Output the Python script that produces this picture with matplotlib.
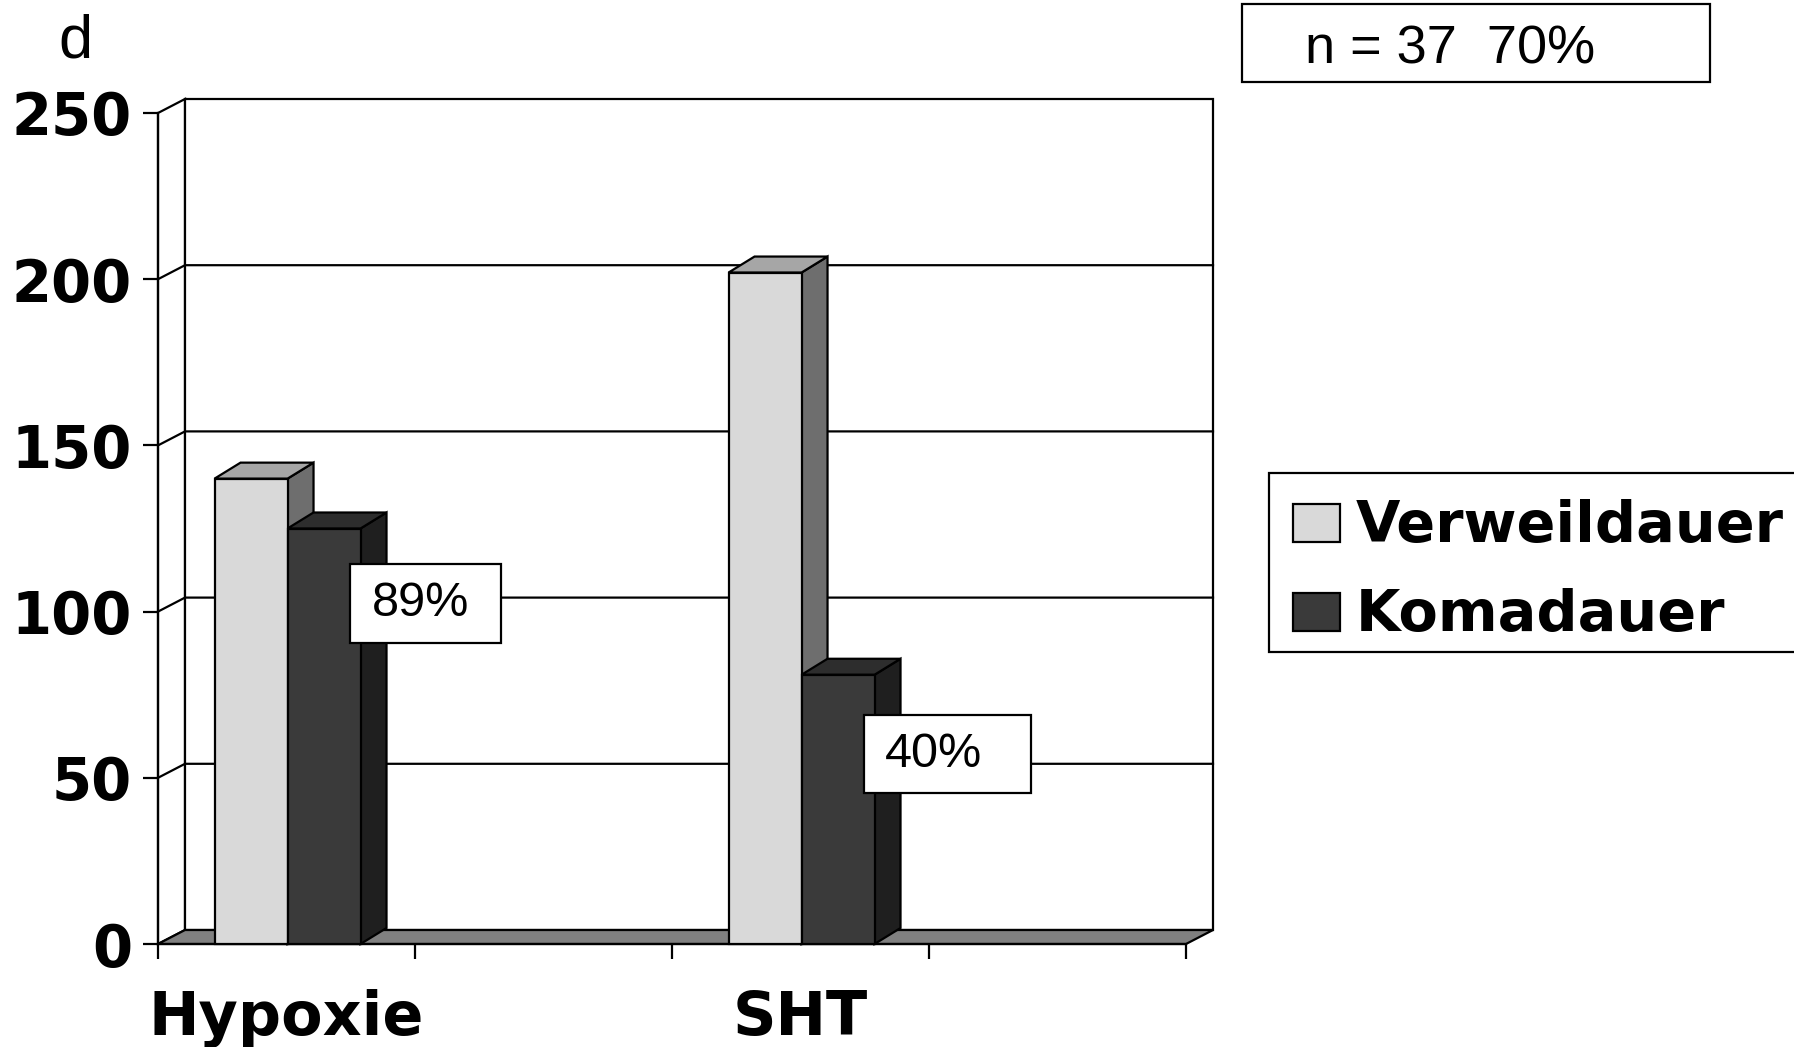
import numpy as np
import matplotlib
matplotlib.use("Agg")
import matplotlib.pyplot as plt
from matplotlib.patches import Polygon, Rectangle

plt.rcParams['font.family'] = ['Liberation Sans', 'DejaVu Sans']
BOLD_FAMILY = ['DejaVu Sans']

# ---- data -------------------------------------------------------------
categories = ["Hypoxie", "", "SHT", ""]
series_names = ["Verweildauer", "Komadauer"]
verweildauer = [140, np.nan, 202, np.nan]
komadauer = [125, np.nan, 81, np.nan]
ratio_labels = ["89%", "", "40%", ""]
y_ticks = [0, 50, 100, 150, 200, 250]
unit_label = "d"
info_text = "n = 37  70%"

# ---- styling ----------------------------------------------------------
# (front, top, side) shades for each series
series_shades = [("#D9D9D9", "#A6A6A6", "#6E6E6E"),
                 ("#3A3A3A", "#2D2D2D", "#1F1F1F")]
floor_color = "#808080"
LW = 1.6

W, H = 1794, 1047
fig = plt.figure(figsize=(W / 100, H / 100), dpi=100)
fig.patch.set_facecolor("white")


def fx(px):
    return px / W


def fy(py):
    return 1 - py / H


# front plane of the 3-D box (pixel rows/cols)
X0, X1 = 158, 1186
Y0, Y1 = 944, 113
n = len(categories)
ymax = y_ticks[-1]

ax = fig.add_axes([fx(X0), fy(Y0), (X1 - X0) / W, (Y0 - Y1) / H])
ax.set_xlim(0, n)
ax.set_ylim(0, ymax)
ax.patch.set_visible(False)

ppx = (X1 - X0) / n
ppy = (Y0 - Y1) / ymax
wall_dx, wall_dy = 27 / ppx, 14 / ppy
bar_dx, bar_dy = 26 / ppx, 16 / ppy

# ---- walls, gridlines and floor --------------------------------------
ax.add_patch(Polygon([(0, 0), (wall_dx, wall_dy), (wall_dx, ymax + wall_dy), (0, ymax)],
                     closed=True, fc="white", ec="black", lw=LW, clip_on=False, zorder=1))
ax.add_patch(Rectangle((wall_dx, wall_dy), n, ymax, fc="white", ec="black",
                       lw=LW, clip_on=False, zorder=1))
for v in y_ticks[1:-1]:
    ax.plot([0, wall_dx, n + wall_dx], [v, v + wall_dy, v + wall_dy],
            color="black", lw=LW, clip_on=False, zorder=1.5, solid_joinstyle="miter")
ax.add_patch(Polygon([(0, 0), (n, 0), (n + wall_dx, wall_dy), (wall_dx, wall_dy)],
                     closed=True, fc=floor_color, ec="black", lw=LW, clip_on=False, zorder=2))


# ---- 3-D columns -------------------------------------------------------
def column(x_left, width, h, shades, z):
    front, top, side = shades
    xr = x_left + width
    kw = dict(closed=True, ec="black", lw=LW, joinstyle="miter", clip_on=False, zorder=z)
    ax.add_patch(Polygon([(xr, 0), (xr + bar_dx, bar_dy), (xr + bar_dx, h + bar_dy), (xr, h)],
                         fc=side, **kw))
    ax.add_patch(Polygon([(x_left, h), (xr, h), (xr + bar_dx, h + bar_dy), (x_left + bar_dx, h + bar_dy)],
                         fc=top, **kw))
    ax.add_patch(Polygon([(x_left, 0), (xr, 0), (xr, h), (x_left, h)], fc=front, **kw))


bar_w = 0.284
centers = np.arange(n) + 0.5
for i, c in enumerate(centers):
    for k, vals in enumerate([verweildauer, komadauer]):
        v = vals[i]
        if np.isnan(v):
            continue
        column(c - bar_w + k * bar_w + 0.004, bar_w, v, series_shades[k], 3 + 0.1 * k)

# ratio boxes next to the Komadauer columns
label_boxes = {0: (0.748, 90.5, 0.585, 23.8), 2: (2.746, 45.4, 0.65, 23.5)}
for i, txt in enumerate(ratio_labels):
    if not txt:
        continue
    bx, by, bw, bh = label_boxes[i]
    ax.add_patch(Rectangle((bx, by), bw, bh, fc="white", ec="black", lw=LW,
                           clip_on=False, zorder=5))
    ax.text(bx + 0.083, by + bh / 2, txt, fontsize=35, ha="left", va="center",
            zorder=6, clip_on=False)

# ---- axes lines, ticks, labels ----------------------------------------
for s in ["top", "right"]:
    ax.spines[s].set_visible(False)
for s in ["left", "bottom"]:
    ax.spines[s].set_linewidth(LW)
    ax.spines[s].set_zorder(2.5)

ax.set_yticks(y_ticks)
ax.set_yticklabels([str(v) for v in y_ticks], fontsize=41.5, fontweight="bold",
                   family=BOLD_FAMILY)
ax.tick_params(axis="y", direction="out", length=10.8, width=LW, pad=8)

ax.set_xticks(np.arange(n + 1))
ax.set_xticklabels([])
ax.set_xticks(centers, minor=True)
ax.set_xticklabels(categories, minor=True, fontsize=43.5, fontweight="bold",
                   family=BOLD_FAMILY)
ax.tick_params(axis="x", which="major", direction="out", length=10.8, width=LW)
ax.tick_params(axis="x", which="minor", length=0, pad=32.5)

fig.text(fx(75), fy(57), unit_label, fontsize=44, ha="center", va="baseline")

# ---- info box -----------------------------------------------------------
fig.patches.append(Rectangle((fx(1242), fy(82)), (1710 - 1242) / W, (82 - 4) / H,
                             transform=fig.transFigure, fc="white", ec="black", lw=LW))
fig.text(fx(1305), fy(63), info_text, fontsize=39, ha="left", va="baseline")

# ---- legend ---------------------------------------------------------------
fig.patches.append(Rectangle((fx(1269), fy(652)), (1830 - 1269) / W, (652 - 473) / H,
                             transform=fig.transFigure, fc="white", ec="black", lw=LW))
for k, name in enumerate(series_names):
    top_px = 504 + k * 89
    fig.patches.append(Rectangle((fx(1293), fy(top_px + 38)), 47 / W, 38 / H,
                                 transform=fig.transFigure, fc=series_shades[k][0],
                                 ec="black", lw=LW))
    fig.text(fx(1356), fy(top_px + 38), name, fontsize=41.3, fontweight="bold",
             family=BOLD_FAMILY, ha="left", va="baseline")

fig.savefig("out.png", dpi=100, facecolor="white")
